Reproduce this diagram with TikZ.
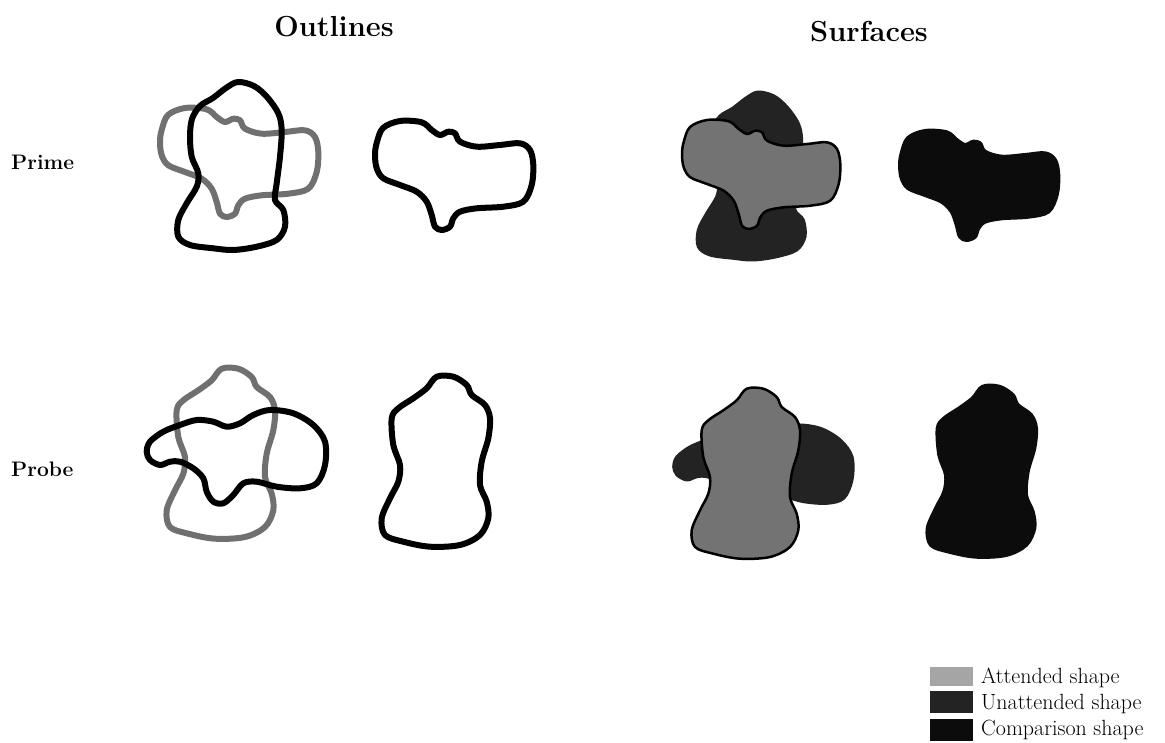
\documentclass[tikz,border=0pt]{standalone}
\usepackage{fontspec}
\definecolor{outgrey}{RGB}{112,112,112}
\definecolor{attfill}{RGB}{115,115,115}
\definecolor{unatt}{RGB}{35,35,35}
\definecolor{comp}{RGB}{12,12,12}
\definecolor{legatt}{RGB}{165,165,165}
\tikzset{
  shapeA/.pic={\path[pic actions] plot[smooth cycle, tension=0.55] coordinates{
    (376.7,143) (383,128) (400,121) (421.7,122.3) (431.7,130) (440,135) (448.3,131.7) (455,133.3) (460,141.7) (476.7,146.7) (500,145) (520,143.3) (530,150) (533.3,165) (531.7,185) (523.3,201.7) (503.3,206.7) (476.7,208.3) (460,211.7) (453.3,218.3) (450,226.7) (441.7,230) (435,226.7) (431.7,215) (426.7,201.7) (416.7,191.7) (400,185) (383.3,178.3) (376.7,168.3) (375,155)};},
  shapeB/.pic={\path[pic actions] plot[smooth cycle, tension=0.55] coordinates{
    (238,82) (254,86) (267,97) (278.3,113.3) (281.7,130) (280,156.7) (276.7,183.3) (275,200) (283.3,210) (285,226.7) (276.7,240) (256.7,246.7) (233.3,250) (213.3,248.3) (190,245) (178.3,236.7) (178.3,220) (186.7,203.3) (196.7,186.7) (198.3,173.3) (191.7,156.7) (190,136.7) (192,119) (200,106) (213,98) (226,88)};},
  shapeC/.pic={\path[pic actions] plot[smooth cycle, tension=0.55] coordinates{
    (436.7,376.7) (453.3,376.7) (466.7,385) (471.7,395) (485,405) (490,418.3) (488.3,438.3) (481.7,461.7) (480,485) (486.7,501.7) (488.3,518.3) (480,535) (460,545) (430,546.7) (403.3,541.7) (385,535) (381.7,518.3) (390,498.3) (398.3,481.7) (400,465) (393.3,445) (391.7,418.3) (398.3,408.3) (413.3,398.3) (426.7,388.3)};},
  shapeD/.pic={\path[pic actions] plot[smooth cycle, tension=0.55] coordinates{
    (146.7,451.7) (150,441.7) (163.3,431.7) (180,425) (196.7,420) (213.3,421.7) (226.7,426.7) (240,423.3) (253.3,415) (270,410) (293.3,413.3) (313.3,425) (325,441.7) (325,465) (316.7,483.3) (300,488.3) (276.7,486.7) (256.7,481.7) (243.3,483.3) (233.3,495) (223.3,503.3) (213.3,501.7) (206.7,491.7) (203.3,478.3) (193.3,468.3) (180,461.7) (170,461.7) (160,465) (150,460)};},
  greyline/.style={draw=outgrey, line width=6pt, line join=round},
  blackline/.style={draw=black, line width=6pt, line join=round},
  attended/.style={fill=attfill, draw=black, line width=2.5pt, line join=round},
  unattended/.style={fill=unatt, draw=unatt, line width=3pt, line join=round},
  comparison/.style={fill=comp, draw=comp, line width=4pt, line join=round},
  title/.style={font=\bfseries\fontsize{29}{33}\selectfont, anchor=base, inner sep=0pt},
  rowlabel/.style={font=\bfseries\fontsize{21}{24}\selectfont, anchor=base west, inner sep=0pt},
  legtext/.style={font=\fontsize{22}{26}\selectfont, anchor=base west, inner sep=0pt},
}
\begin{document}
\begin{tikzpicture}[x=1pt, y=-1pt]
\useasboundingbox[fill=white] (0,0) rectangle (1165,743);
% titles and row labels
\node[title] (outl) at (334,37) {Outlines};
\node[title] (surf) at (869,42) {Surfaces};
\node[rowlabel] (prime) at (11,170) {Prime};
\node[rowlabel] (probe) at (11,476) {Probe};
% outlines, prime
\pic[greyline] at (-215,-13) {shapeA};
\pic[blackline] at (0,0) {shapeB};
\pic[blackline] at (0,0) {shapeA};
% outlines, probe
\pic[greyline] at (-215,-8) {shapeC};
\pic[blackline] at (0,0) {shapeD};
\pic[blackline] at (0,0) {shapeC};
% surfaces, prime
\pic[unattended] at (520,10) {shapeB};
\pic[attended] at (307,-1) {shapeA};
\pic[comparison] at (525,10) {shapeA};
% surfaces, probe
\pic[unattended] at (527,15) {shapeD};
\pic[attended] at (310,12) {shapeC};
\pic[comparison] at (546,10) {shapeC};
% legend
\fill[legatt] (930,667) rectangle (973,686);
\fill[unatt] (930,691) rectangle (973,713);
\fill[comp] (930,719) rectangle (973,741);
\node[legtext] (latt) at (981,683) {Attended shape};
\node[legtext] (lunatt) at (981,709) {Unattended shape};
\node[legtext] (lcomp) at (981,735) {Comparison shape};
\end{tikzpicture}
\end{document}
